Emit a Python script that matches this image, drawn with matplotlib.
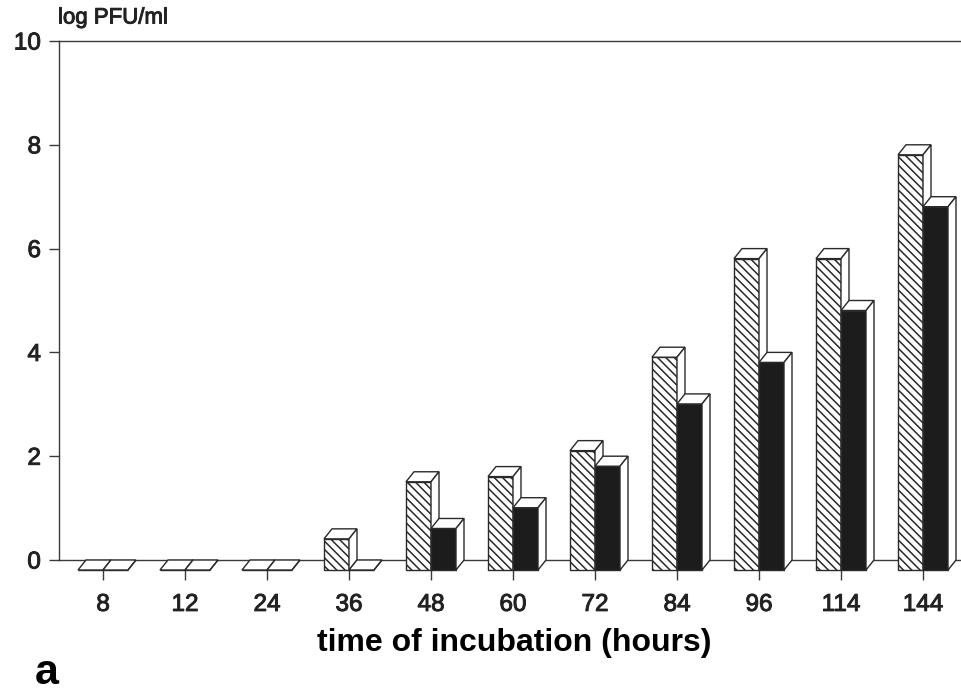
import matplotlib
matplotlib.use("Agg")
import matplotlib.pyplot as plt
import matplotlib.patheffects as pe
from matplotlib.patches import Polygon, Rectangle

categories = ['8', '12', '24', '36', '48', '60', '72', '84', '96', '114', '144']
hatched_vals = [0, 0, 0, 0.6, 1.7, 1.8, 2.3, 4.1, 6.0, 6.0, 8.0]
solid_vals = [0, 0, 0, 0, 0.8, 1.2, 2.0, 3.2, 4.0, 5.0, 7.0]
yticks = [0, 2, 4, 6, 8, 10]

plt.rcParams['font.family'] = ['Liberation Sans', 'DejaVu Sans']
plt.rcParams['hatch.linewidth'] = 1.1
plt.rcParams['hatch.color'] = '#222222'

W, H = 961, 695
fig = plt.figure(figsize=(W / 100, H / 100), dpi=100)
ax = fig.add_axes([59 / W, (H - 560) / H, 902 / W, 519 / H])
ax.set_xlim(-44 / 82, 10 + 38 / 82)
ax.set_ylim(0, 10)

edge = '#2a2a2a'
bw = 25 / 82          # bar width (data units)
ddx = 8 / 82          # depth in x
ddy = 10 / 51.9       # depth in y


def bar3d(x0, v, face, hatch):
    z = 3
    # front face
    ax.add_patch(Rectangle((x0, -ddy), bw, v, facecolor=face, edgecolor=edge,
                           hatch=hatch, lw=1.0, clip_on=False, zorder=z))
    # top face
    ax.add_patch(Polygon([(x0, v - ddy), (x0 + bw, v - ddy), (x0 + bw + ddx, v), (x0 + ddx, v)],
                         closed=True, facecolor='white', edgecolor=edge, lw=1.0,
                         clip_on=False, zorder=z))
    # side face
    ax.add_patch(Polygon([(x0 + bw, -ddy), (x0 + bw + ddx, 0), (x0 + bw + ddx, v), (x0 + bw, v - ddy)],
                         closed=True, facecolor='white', edgecolor=edge, lw=1.0,
                         clip_on=False, zorder=z))


for i in range(len(categories)):
    bar3d(i - bw, hatched_vals[i], 'white', '\\\\\\\\')
    bar3d(i, solid_vals[i], '#1c1c1c', None)

for s in ['right']:
    ax.spines[s].set_visible(False)
for s in ['left', 'top', 'bottom']:
    ax.spines[s].set_color('#3a3a3a')
    ax.spines[s].set_linewidth(1.0)

ax.set_xticks(range(len(categories)))
ax.set_xticklabels(categories)
ax.set_yticks(yticks)
ax.set_yticklabels([str(t) for t in yticks])
ax.tick_params(axis='x', direction='out', length=14.4, width=1.0, color='#3a3a3a',
               pad=10, labelsize=17.5, labelcolor='#222222')
ax.tick_params(axis='y', direction='out', length=7, width=1.0, color='#3a3a3a',
               pad=6, labelsize=17.5, labelcolor='#222222')
thick = [pe.withStroke(linewidth=0.7, foreground='#222222')]
for lab in ax.get_xticklabels() + ax.get_yticklabels():
    lab.set_path_effects(thick)

fig.text(58 / W, 1 - 18 / H, 'log PFU/ml', fontsize=16, ha='left', va='center', color='#222222',
         path_effects=thick)
fig.text(514 / W, 1 - 643 / H, 'time of incubation (hours)', fontsize=23, fontweight='bold',
         ha='center', va='center', color='black')
fig.text(35 / W, 1 - 684 / H, 'a', fontsize=31, fontweight='bold', ha='left', va='baseline', color='black')

fig.savefig('out.png', dpi=100)
